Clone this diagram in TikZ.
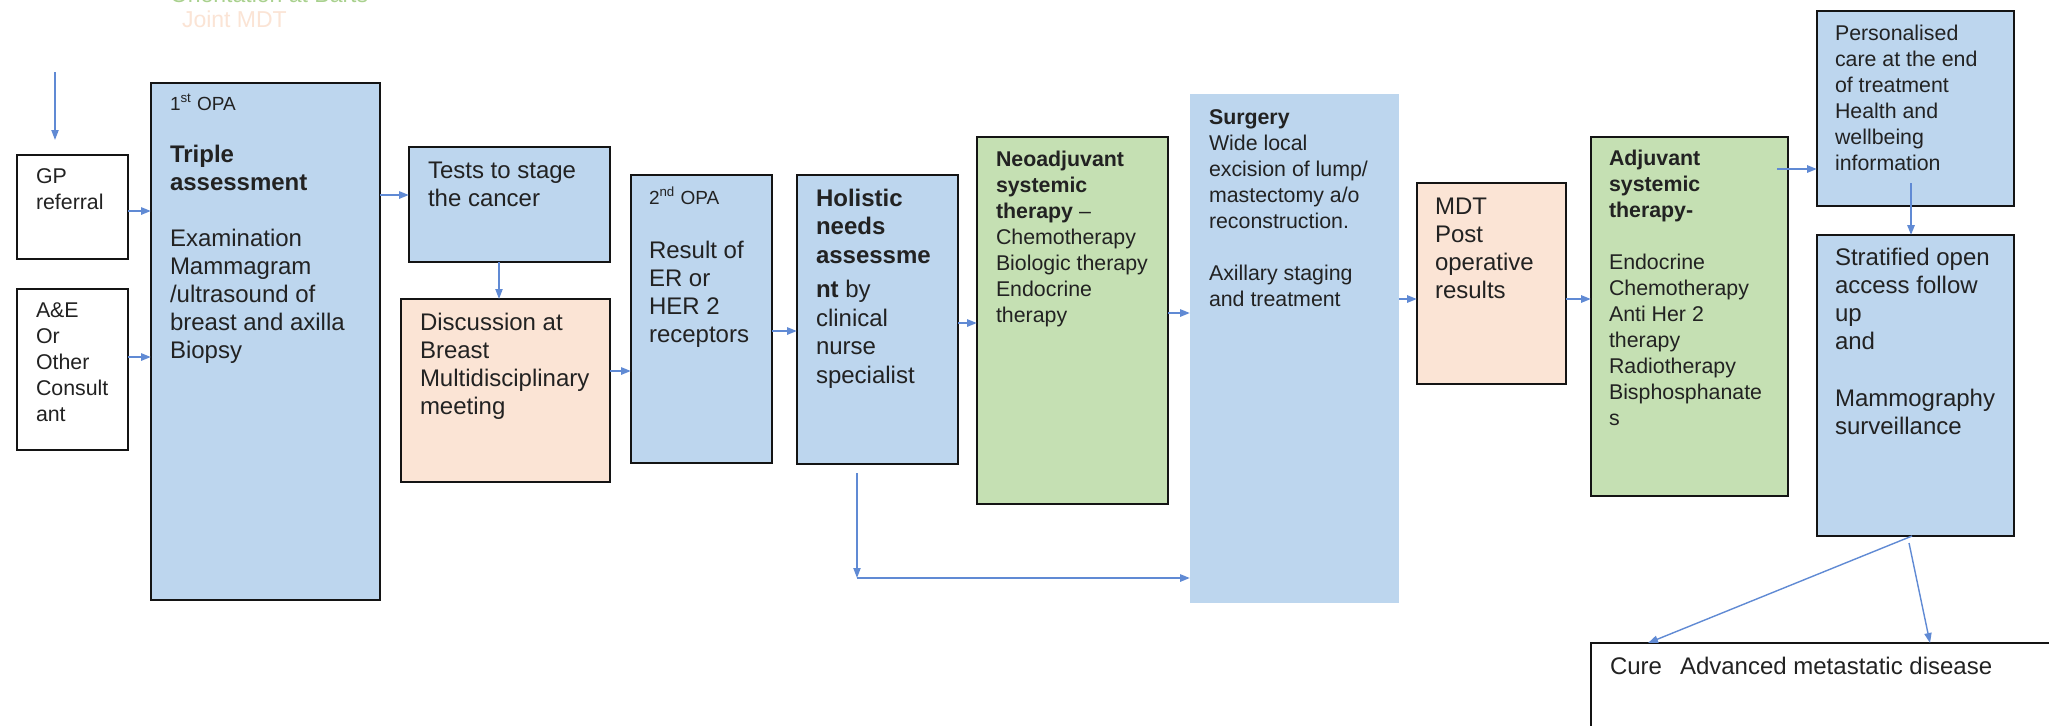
\documentclass[tikz,border=0pt]{standalone}
\usepackage{fontspec}
\setmainfont{Liberation Sans}
\usetikzlibrary{arrows.meta,calc}

\definecolor{boxblue}{HTML}{BDD6EE}
\definecolor{boxgreen}{HTML}{C5E0B3}
\definecolor{boxpeach}{HTML}{FBE4D5}
\definecolor{linkblue}{HTML}{608AD4}
\definecolor{inkgray}{HTML}{222222}
\definecolor{notegreen}{HTML}{A9D18E}

% type sizes (one picture unit = 0.5pt)
\newcommand\fsL{\fontsize{12}{14}\selectfont}
\newcommand\fsS{\fontsize{10.67}{13}\selectfont}
\newcommand\fsO{\fontsize{9.5}{11}\selectfont}

% \stagebox{name}{x1}{y1}{x2}{y2}{style}
\newcommand\stagebox[6]{%
  \node[#6, minimum width={(#4-#2)*0.5pt}, minimum height={(#5-#3)*0.5pt}]
    (#1) at ({(#2+#4)/2},{(#3+#5)/2}) {};}
% \boxtext{name}{x}{y}{content}: y is the first baseline
\newcommand\boxtext[4]{%
  \node[lbl] (#1) at (#2,#3) {\parbox[t]{400pt}{#4}};}

\tikzset{
  stage/.style={rectangle, inner sep=0pt, outer sep=0pt, draw=black!92, line width=1pt},
  plain/.style={stage, fill=white},
  blue/.style={stage, fill=boxblue},
  green/.style={stage, fill=boxgreen},
  peach/.style={stage, fill=boxpeach},
  lbl/.style={inner sep=0pt, outer sep=0pt, anchor=base west, text=inkgray},
  link/.style={draw=linkblue, line width=1.1pt,
    -{Triangle[length=5pt,width=3.6pt]}},
  thinlink/.style={link, line width=0.7pt},
}

\begin{document}
\begin{tikzpicture}[x=0.5pt, y=-0.5pt]
\useasboundingbox (0,0) rectangle (2049,725);
\fill[white] (0,0) rectangle (2049,725);

% faint heading text at the top
\node[lbl, text=notegreen, font=\fontsize{11.5}{14}\selectfont] (orient) at (170,2) {Orientation at Barts};
\node[lbl, text=boxpeach, font=\fontsize{11.5}{14}\selectfont] (joint) at (182,27) {Joint MDT};

% boxes
\stagebox{gp}{17}{155}{128}{259}{plain}
\stagebox{ae}{17}{289}{128}{450}{plain}
\stagebox{triple}{151}{83}{380}{600}{blue}
\stagebox{tests}{409}{147}{610}{262}{blue}
\stagebox{disc}{401}{299}{610}{482}{peach}
\stagebox{opa}{631}{175}{772}{463}{blue}
\stagebox{hol}{797}{175}{958}{464}{blue}
\stagebox{neo}{977}{137}{1168}{504}{green}
\node[rectangle, inner sep=0pt, outer sep=0pt, fill=boxblue,
  minimum width={209*0.5pt}, minimum height={509*0.5pt}] (surg) at (1294.5,348.5) {};
\stagebox{mdt}{1417}{183}{1566}{384}{peach}
\stagebox{adj}{1591}{137}{1788}{496}{green}
\stagebox{pers}{1817}{11}{2014}{206}{blue}
\stagebox{strat}{1817}{235}{2014}{536}{blue}
\stagebox{cure}{1591}{643}{2070}{760}{plain}

% texts
\boxtext{tgp}{36}{183}{\fsS GP\\referral}
\boxtext{tae}{36}{317}{\fsS A\&E\\Or\\Other\\Consult\\ant}
\boxtext{topa1}{170}{110}{\fsO 1\textsuperscript{st} OPA}
\boxtext{ttriple}{170}{162}{\fsL {\bfseries Triple\\assessment}\\[14pt]Examination\\Mammagram\\/ultrasound of\\breast and axilla\\Biopsy}
\boxtext{ttests}{428}{178}{\fsL Tests to stage\\the cancer}
\boxtext{tdisc}{420}{330}{\fsL Discussion at\\Breast\\Multidisciplinary\\meeting}
\boxtext{topa2}{649}{204}{\fsO 2\textsuperscript{nd} OPA}
\boxtext{tresult}{649}{258}{\fsL Result of\\ER or\\HER 2\\receptors}
\boxtext{thol}{816}{206}{\fontsize{12}{14.25}\selectfont {\bfseries Holistic\\needs\\assessme}\\[3pt]{\bfseries nt} by\\clinical\\nurse\\specialist}
\boxtext{tneo}{996}{166}{\fsS {\bfseries Neoadjuvant\\systemic\\therapy} –\\Chemotherapy\\Biologic therapy\\Endocrine\\therapy}
\boxtext{tsurg}{1209}{124}{\fsS {\bfseries Surgery}\\Wide local\\excision of lump/\\mastectomy a/o\\reconstruction.\\[13pt]Axillary staging\\and treatment}
\boxtext{tmdt}{1435}{214}{\fsL MDT\\Post\\operative\\results}
\boxtext{tadj}{1609}{165}{\fsS {\bfseries Adjuvant\\systemic\\therapy-}\\[13pt]Endocrine\\Chemotherapy\\Anti Her 2\\therapy\\Radiotherapy\\Bisphosphanate\\s}
\boxtext{tpers}{1835}{40}{\fsS Personalised\\care at the end\\of treatment\\Health and\\wellbeing\\information}
\boxtext{tstrat}{1835}{265}{\fontsize{12}{14.15}\selectfont Stratified open\\access follow\\up\\and\\[14.15pt]Mammography\\surveillance}
\boxtext{tcure}{1610}{674}{\fsL Cure\hspace{9pt}Advanced metastatic disease}

% connectors
\coordinate (entry) at (55,72);
\draw[thinlink] (entry) -- ($(gp.north -| 55,0)+(0,-15)$);
\draw[link] (gp.east |- 0,211) -- (triple.west |- 0,211);
\draw[link] (ae.east |- 0,357) -- (triple.west |- 0,357);
\draw[link] (triple.east |- 0,195) -- (tests.west |- 0,195);
\draw[thinlink] (tests.south -| 499,0) -- (disc.north -| 499,0);
\draw[link] (disc.east |- 0,371) -- (opa.west |- 0,371);
\draw[link] (opa.east |- 0,331) -- (hol.west |- 0,331);
\draw[link] (hol.east |- 0,323) -- (neo.west |- 0,323);
\draw[link] (neo.east |- 0,313) -- (surg.west |- 0,313);
\coordinate (corner) at (857,578);
\draw[thinlink] ($(hol.south -| 857,0)+(0,9)$) -- (corner);
\draw[link] (corner) -- (surg.west |- corner);
\draw[link] (surg.east |- 0,299) -- (mdt.west |- 0,299);
\draw[link] (mdt.east |- 0,299) -- (adj.west |- 0,299);
\draw[link] ($(adj.east |- 0,169)+(-11,0)$) -- (pers.west |- 0,169);
\draw[link] ($(pers.south -| 1911,0)+(0,-23)$) -- (strat.north -| 1911,0);
\draw[thinlink] (strat.south -| 1912,0) -- (cure.north -| 1648,0);
\draw[thinlink] ($(strat.south -| 1909,0)+(0,7)$) -- (cure.north -| 1930,0);
\end{tikzpicture}
\end{document}
